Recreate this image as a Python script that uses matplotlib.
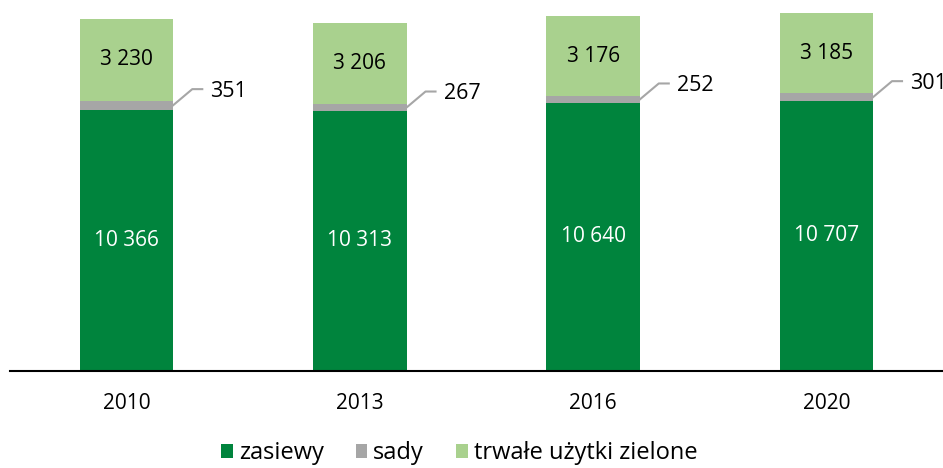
import numpy as np
import matplotlib
matplotlib.use("Agg")
import matplotlib.pyplot as plt
from matplotlib.lines import Line2D

plt.rcParams['font.family'] = ['Open Sans', 'DejaVu Sans']

# data
years = ["2010", "2013", "2016", "2020"]
zasiewy = [10366, 10313, 10640, 10707]
sady = [351, 267, 252, 301]
trwale = [3230, 3206, 3176, 3185]
series_names = ["zasiewy", "sady", "trwałe użytki zielone"]

c_dark = "#00843D"
c_gray = "#A6A6A6"
c_light = "#A9D18E"

def fmt(v):
    return "{:,}".format(v).replace(",", " ")

fig = plt.figure(figsize=(9.43, 4.68), dpi=100)
ax = fig.add_axes([10 / 943, 97 / 468, 933 / 943, 371 / 468])

x = np.arange(len(years))
w = 0.4
z = np.array(zasiewy)
s = np.array(sady)
t = np.array(trwale)

ax.bar(x, z, w, color=c_dark, label=series_names[0])
ax.bar(x, s, w, bottom=z, color=c_gray, label=series_names[1])
ax.bar(x, t, w, bottom=z + s, color=c_light, label=series_names[2])

ax.set_xlim(-0.5, 3.5)
ax.set_ylim(0, 14710)

for sp in ["top", "right", "left"]:
    ax.spines[sp].set_visible(False)
ax.spines["bottom"].set_linewidth(1.5)
ax.spines["bottom"].set_color("black")
ax.set_yticks([])
ax.set_xticks(x)
ax.set_xticklabels(years, fontsize=15)
ax.tick_params(axis="x", length=0, pad=16)

# labels inside bars
for i in range(len(years)):
    ax.text(x[i], z[i] / 2, fmt(zasiewy[i]), color="white", ha="center", va="center", fontsize=15)
    ax.text(x[i], z[i] + s[i] + t[i] / 2, fmt(trwale[i]), color="black", ha="center", va="center", fontsize=15)

# sady labels with leader lines (pixel offsets)
for i in range(len(years)):
    px, py = ax.transData.transform((x[i] + w / 2, z[i] + s[i] / 2))
    pts = np.array([[px, py], [px + 19, py + 16], [px + 29, py + 16]])
    fig.lines.append(Line2D(pts[:, 0] / fig.bbox.width, pts[:, 1] / fig.bbox.height,
                            transform=fig.transFigure, color="#A6A6A6", lw=1.5))
    fig.text((px + 37) / fig.bbox.width, (py + 14) / fig.bbox.height, fmt(sady[i]),
             ha="left", va="center", fontsize=15.5)

fig.legend(loc="lower center", bbox_to_anchor=(0.487, -0.04), ncol=3, frameon=False,
           fontsize=17, handlelength=0.5, handleheight=0.5, handletextpad=0.25,
           columnspacing=1.35)

fig.savefig("out.png", dpi=100)
